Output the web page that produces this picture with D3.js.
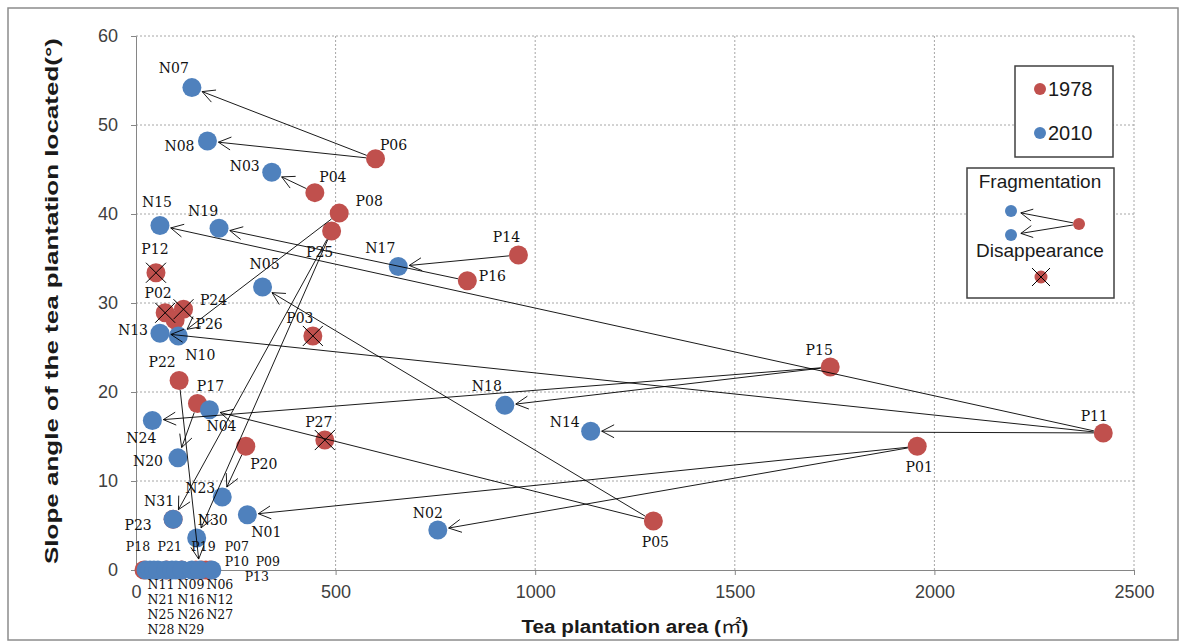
<!DOCTYPE html>
<html>
<head>
<meta charset="utf-8">
<script src="https://cdn.jsdelivr.net/npm/d3@7"></script>
<style>
  body { margin: 0; background: #fff; }
</style>
</head>
<body>
<div id="chart"></div>
<script>
// tea plantations in 1978
var ids1978 = ['P01','P02','P03','P04','P05','P06','P08','P11','P12','P14','P15','P16','P17',
  'P20','P22','P23','P24','P25','P26','P27','P18','P21','P19','P07','P10','P09','P13'];
var area1978 = [1957, 73, 443, 448, 1296, 600, 509, 2423, 50, 958, 1739, 830, 154,
  275, 108, 93, 119, 490, 98, 473, 20, 77, 114, 150, 165, 175, 185];
var slope1978 = [13.9, 28.9, 26.3, 42.4, 5.5, 46.2, 40.1, 15.4, 33.4, 35.4, 22.8, 32.5, 18.7,
  13.9, 21.3, 5.7, 29.3, 38.1, 28.1, 14.6, 0, 0, 0, 0, 0, 0, 0];
// plantations that disappeared by 2010
var lost1978 = ['P02','P03','P12','P24','P27'];

// tea plantations in 2010
var ids2010 = ['N01','N02','N03','N04','N05','N07','N08','N10','N13','N14','N15','N17','N18',
  'N19','N20','N23','N24','N30','N31','N11','N21','N25','N28','N09','N16','N26','N29','N12','N06','N27'];
var area2010 = [279, 756, 340, 184, 317, 140, 179, 106, 60, 1139, 60, 657, 924,
  208, 105, 216, 41, 152, 93, 25, 35, 45, 55, 75, 90, 100, 115, 140, 160, 190];
var slope2010 = [6.2, 4.5, 44.7, 18.0, 31.8, 54.2, 48.2, 26.3, 26.6, 15.6, 38.7, 34.1, 18.5,
  38.4, 12.6, 8.2, 16.8, 3.6, 5.7, 0, 0, 0, 0, 0, 0, 0, 0, 0, 0, 0];

// 1978 -> 2010 changes
var arrowFrom = ['P06','P06','P04','P08','P25','P25','P14','P16','P11','P11','P11','P15','P15',
  'P01','P01','P05','P05','P17','P20','P22'];
var arrowTo   = ['N07','N08','N03','N10','N31','N30','N17','N19','N15','N13','N14','N18','N24',
  'N01','N02','N05','N04','N20','N23','N06'];

var xTicks = [0, 500, 1000, 1500, 2000, 2500];
var yTicks = [0, 10, 20, 30, 40, 50, 60];

// where each label sits relative to its point (px)
var labelOff = {
  N07:[-18,-20], N08:[-28,5], P06:[18,-14], N03:[-27,-6], P04:[18,-16], P08:[30,-12],
  N15:[-3,-23], N19:[-16,-17], P12:[-1,-24], P25:[-12,21], N17:[-18,-18], N05:[2,-23],
  P14:[-12,-18], P16:[25,-5], N18:[-18,-19], N14:[-26,-9], N02:[-10,-17], P05:[2,21],
  P15:[-11,-17], P01:[2,21], P11:[-9,-17], P02:[-7,-20], P24:[30,-9], P26:[34,4],
  N13:[-27,-3], N10:[22,19], P22:[-17,-18], P17:[13,-17], N04:[12,16], N24:[-11,18],
  N20:[-30,3], P27:[-6,-18], P20:[18,18], P03:[-13,-18], N23:[-22,-9], N01:[19,17],
  N30:[16,-18], N31:[-14,-18], P23:[-35,6]
};
// labels of the zero-slope plantations, packed round the axis
var stackOff = {
  P18:[-6,-23], P21:[3,-23], P19:[22,-23], P07:[41,-23], P10:[35,-8], P09:[62,-8], P13:[47,7],
  N11:[15,15], N21:[11,30], N25:[7,45], N28:[3,60], N09:[25,15], N16:[19,30], N26:[15,45],
  N29:[9,60], N06:[20,15], N12:[28,30], N27:[8,45]
};

var width = 1184, height = 642;
var R = 9.5;
var red = '#c0504d', blue = '#4f81bd';

var x = d3.scaleLinear().domain([0, 2500]).range([136, 1134]);
var y = d3.scaleLinear().domain([0, 60]).range([570, 36]);

var svg = d3.select('#chart').append('svg')
  .attr('width', width).attr('height', height)
  .style('font-family', 'Liberation Sans, Arial, sans-serif');

svg.append('rect')
  .attr('x', 8).attr('y', 8).attr('width', 1170).attr('height', 632)
  .attr('fill', 'none').attr('stroke', '#8c8c8c').attr('stroke-width', 1.5);

// grid
svg.append('g').selectAll('line').data(yTicks.slice(1)).enter().append('line')
  .attr('x1', x(0)).attr('x2', x(2500)).attr('y1', d => y(d)).attr('y2', d => y(d))
  .attr('stroke', '#a6a6a6').attr('stroke-dasharray', '2,2');
svg.append('g').selectAll('line').data(xTicks.slice(1)).enter().append('line')
  .attr('y1', y(0)).attr('y2', y(60)).attr('x1', d => x(d)).attr('x2', d => x(d))
  .attr('stroke', '#a6a6a6').attr('stroke-dasharray', '2,2');

// axes
var yAxis = svg.append('g').attr('transform', `translate(${x(0)},0)`)
  .call(d3.axisLeft(y).tickValues(yTicks).tickFormat(d3.format('d')).tickSize(5).tickPadding(13));
var xAxis = svg.append('g').attr('transform', `translate(0,${y(0)})`)
  .call(d3.axisBottom(x).tickValues(xTicks).tickFormat(d3.format('d')).tickSize(5).tickPadding(10));
[yAxis, xAxis].forEach(function(a) {
  a.selectAll('path, line').attr('stroke', '#868686');
  a.selectAll('text').attr('fill', '#404040').style('font-size', '18px')
    .style('font-family', 'Liberation Sans, Arial, sans-serif');
});

svg.append('text')
  .attr('transform', 'translate(58,301) rotate(-90)')
  .attr('text-anchor', 'middle')
  .attr('textLength', 526).attr('lengthAdjust', 'spacingAndGlyphs')
  .style('font-size', '18px').style('font-weight', 'bold').attr('fill', '#1a1a1a')
  .text('Slope angle of the tea plantation located(°)');

var xt = svg.append('text')
  .attr('x', 635).attr('y', 633)
  .attr('text-anchor', 'middle')
  .attr('textLength', 227).attr('lengthAdjust', 'spacingAndGlyphs')
  .style('font-size', '18px').style('font-weight', 'bold').attr('fill', '#1a1a1a');
xt.append('tspan').text('Tea plantation area (');
xt.append('tspan').style('font-family', 'Noto Sans CJK JP').style('font-weight', 'normal').text('㎡');
xt.append('tspan').text(')');

// points
var pts = {};
var d1978 = ids1978.map((id, i) => ({id: id, px: x(area1978[i]), py: y(slope1978[i]), c: red}));
var d2010 = ids2010.map((id, i) => ({id: id, px: x(area2010[i]), py: y(slope2010[i]), c: blue}));
d1978.concat(d2010).forEach(d => { pts[d.id] = d; });

svg.append('g').selectAll('circle').data(d1978.concat(d2010)).enter().append('circle')
  .attr('cx', d => d.px).attr('cy', d => d.py).attr('r', R)
  .attr('fill', d => d.c);

// crosses on disappeared plantations
svg.append('g').selectAll('path').data(lost1978).enter().append('path')
  .attr('d', function(id) {
    var p = pts[id], s = 10;
    return `M${p.px - s},${p.py - s}L${p.px + s},${p.py + s}M${p.px + s},${p.py - s}L${p.px - s},${p.py + s}`;
  })
  .attr('stroke', '#000').attr('stroke-width', 1);

function arrowPath(a, b, r0, r1, head) {
  var dx = b[0] - a[0], dy = b[1] - a[1], len = Math.hypot(dx, dy);
  var ux = dx / len, uy = dy / len;
  var tx = b[0] - ux * r1, ty = b[1] - uy * r1;
  var ang = Math.atan2(uy, ux);
  var p = d3.path();
  p.moveTo(a[0] + ux * r0, a[1] + uy * r0);
  p.lineTo(tx, ty);
  [-0.48, 0.48].forEach(function(o) {
    p.moveTo(tx, ty);
    p.lineTo(tx - head * Math.cos(ang + o), ty - head * Math.sin(ang + o));
  });
  return p.toString();
}

svg.append('g').selectAll('path').data(arrowFrom).enter().append('path')
  .attr('d', (f, i) => arrowPath([pts[f].px, pts[f].py], [pts[arrowTo[i]].px, pts[arrowTo[i]].py], R, 11, 14))
  .attr('fill', 'none').attr('stroke', '#000').attr('stroke-width', 0.9);

// point labels
var all = d1978.concat(d2010);
svg.append('g').selectAll('text').data(all.filter(d => labelOff[d.id])).enter().append('text')
  .attr('x', d => d.px + labelOff[d.id][0])
  .attr('y', d => d.py + labelOff[d.id][1])
  .attr('dy', '0.35em')
  .attr('text-anchor', 'middle')
  .style('font-family', 'DejaVu Serif, serif').style('font-size', '14px')
  .attr('fill', '#111')
  .text(d => d.id);

svg.append('g').selectAll('text').data(all.filter(d => stackOff[d.id])).enter().append('text')
  .attr('x', d => d.px + stackOff[d.id][0])
  .attr('y', d => d.py + stackOff[d.id][1])
  .attr('dy', '0.35em')
  .attr('text-anchor', 'middle')
  .style('font-family', 'DejaVu Serif, serif').style('font-size', '12.5px')
  .attr('fill', '#111')
  .text(d => d.id);

// legend: years
var lg = svg.append('g');
lg.append('rect').attr('x', 1015).attr('y', 66).attr('width', 98).attr('height', 91)
  .attr('fill', '#fff').attr('stroke', '#404040').attr('stroke-width', 1.5);
[['1978', red, 89], ['2010', blue, 133]].forEach(function(e) {
  lg.append('circle').attr('cx', 1040).attr('cy', e[2]).attr('r', 6).attr('fill', e[1]);
  lg.append('text').attr('x', 1048).attr('y', e[2]).attr('dy', '0.35em')
    .style('font-size', '20px').attr('fill', '#1a1a1a').text(e[0]);
});

// legend: change types
lg.append('rect').attr('x', 967).attr('y', 168).attr('width', 147).attr('height', 130)
  .attr('fill', '#fff').attr('stroke', '#404040').attr('stroke-width', 1.5);
lg.append('text').attr('x', 1040).attr('y', 181).attr('dy', '0.35em').attr('text-anchor', 'middle')
  .style('font-size', '19px').attr('fill', '#1a1a1a').text('Fragmentation');
lg.append('text').attr('x', 1040).attr('y', 250).attr('dy', '0.35em').attr('text-anchor', 'middle')
  .style('font-size', '19px').attr('fill', '#1a1a1a').text('Disappearance');
[[1011, 211], [1011, 235]].forEach(function(b) {
  lg.append('path').attr('d', arrowPath([1079, 224], b, 6, 10, 13))
    .attr('fill', 'none').attr('stroke', '#000').attr('stroke-width', 0.9);
  lg.append('circle').attr('cx', b[0]).attr('cy', b[1]).attr('r', 6).attr('fill', blue);
});
lg.append('circle').attr('cx', 1079).attr('cy', 224).attr('r', 6).attr('fill', red);
lg.append('circle').attr('cx', 1041).attr('cy', 277).attr('r', 6.5).attr('fill', red);
lg.append('path').attr('d', 'M1032,268L1050,286M1050,268L1032,286')
  .attr('stroke', '#000').attr('stroke-width', 1);
</script>
</body>
</html>
